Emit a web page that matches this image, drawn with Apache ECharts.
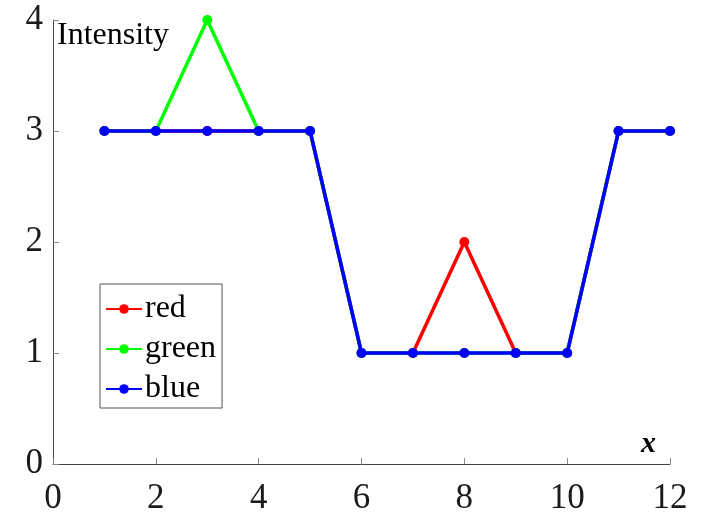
<!DOCTYPE html>
<html><head><meta charset="utf-8">
<script src="https://cdn.jsdelivr.net/npm/echarts@6/dist/echarts.min.js"></script>
<style>html,body{margin:0;padding:0;background:#fff}#c{width:701px;height:515px}</style>
</head><body><div id="c"></div>
<script>
const xs = [1,2,3,4,5,6,7,8,9,10,11,12];
const red = [3,3,3,3,3,1,1,2,1,1,3,3];
const green = [3,3,4,3,3,1,1,1,1,1,3,3];
const blue = [3,3,3,3,3,1,1,1,1,1,3,3];
const names = ['red','green','blue'];
const colors = ['#ff0000','#00ff00','#0000ff'];
const font = '"Liberation Serif", "Times New Roman", serif';
const chart = echarts.init(document.getElementById('c'));
const vals = [red, green, blue];
chart.setOption({
  animation: false,
  grid: {left: 53, right: 31, top: 20, bottom: 51, containLabel: false, outerBoundsMode: 'none'},
  xAxis: {
    type: 'value', min: 0, max: 12, interval: 2,
    name: 'x', nameLocation: 'end', nameGap: 0,
    nameTextStyle: {fontFamily: font, fontStyle: 'italic', fontWeight: 'bold', fontSize: 30, color: '#000', verticalAlign: 'bottom', align: 'right', padding: [0, 14, 5, 0]},
    axisLine: {lineStyle: {color: '#444', width: 1}},
    axisTick: {inside: true, length: 6, lineStyle: {color: '#888'}},
    axisLabel: {fontFamily: font, fontSize: 35, color: '#1a1a1a', margin: 17},
    splitLine: {show: false}
  },
  yAxis: {
    type: 'value', min: 0, max: 4, interval: 1,
    axisLine: {show: true, lineStyle: {color: '#444', width: 1}},
    axisTick: {show: true, inside: true, length: 6, lineStyle: {color: '#888'}},
    axisLabel: {fontFamily: font, fontSize: 35, color: '#1a1a1a', margin: 10},
    splitLine: {show: false}
  },
  legend: {
    left: 100, top: 284, orient: 'vertical',
    data: names,
    borderColor: '#555', borderWidth: 1, borderRadius: 0,
    padding: [9, 6, 3, 5], itemGap: 8,
    itemWidth: 36, itemHeight: 12,
    textStyle: {fontFamily: font, fontSize: 32, color: '#000', padding: [0,0,0,-2]}
  },
  graphic: [{
    type: 'text', left: 57, top: 20,
    style: {text: 'Intensity', font: '32px ' + font, fill: '#000'}
  }],
  series: names.map((n, i) => ({
    name: n, type: 'line',
    data: xs.map((x, j) => [x, vals[i][j]]),
    color: colors[i],
    symbol: 'circle', symbolSize: 10,
    lineStyle: {width: 3.5, color: colors[i]},
    itemStyle: {color: colors[i]},
    z: 2 + i
  }))
});
</script></body></html>
